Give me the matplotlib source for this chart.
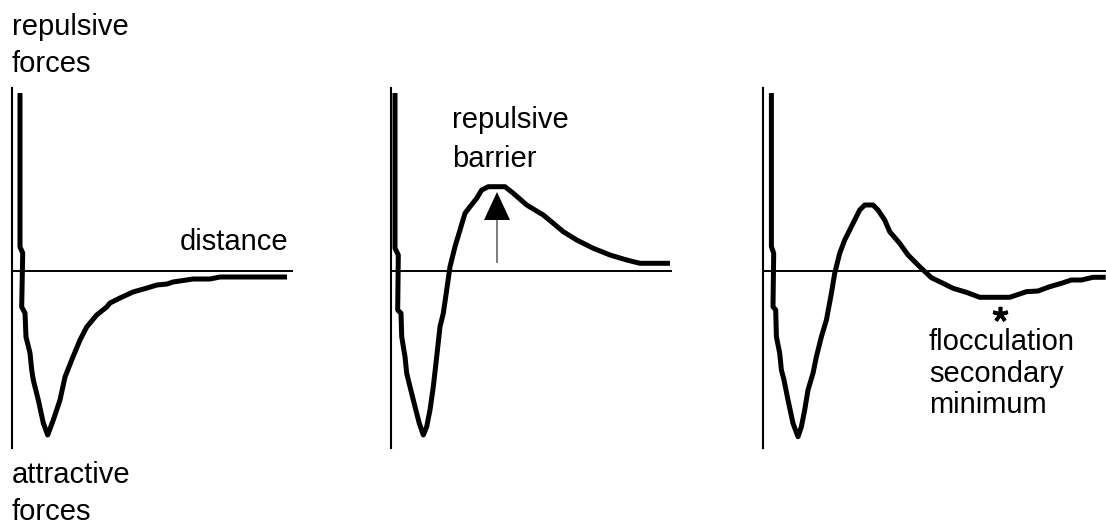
import numpy as np
import matplotlib.pyplot as plt

plt.rcParams['font.family'] = ['Liberation Sans', 'DejaVu Sans']

# interaction energy vs. separation distance, arbitrary units (origin = axis crossing)
d_attr = [8, 8, 10.7, 9.7, 13, 14, 18, 19.7, 21.3, 26.3, 31.3, 35.7, 41.3, 48, 53,
          59.7, 68, 74.7, 84.7, 94.7, 98, 108, 121, 135, 145, 155, 161, 181, 198, 208, 275]
e_attr = [178, 24, 18, -36, -42, -66, -82, -99, -109, -129, -152, -164, -149, -129, -106,
          -89, -69, -56, -44, -36, -32, -27, -21, -17, -14, -13, -11, -8, -8, -6, -6]

d_barrier = [4, 4, 7.3, 6.7, 10, 10.7, 14, 15.7, 19, 24, 28.3, 32.3, 35.7, 39, 42.3, 45.7,
             49, 52.3, 55.7, 59, 64, 69, 74, 79, 85.7, 90.7, 97.3, 114, 122.3, 135.7,
             152.3, 162.3, 172.3, 185.7, 202.3, 219, 235.7, 249, 279]
e_barrier = [178, 22.7, 16, -39, -42.3, -65.7, -85.7, -102.3, -115.7, -135.7, -152.3, -164,
             -155.7, -139, -115.7, -85.7, -55.7, -42.3, -19, 4.3, 24.3, 41, 57.7, 64.3,
             72.7, 81, 84.3, 84.3, 77.7, 66, 56, 47.7, 39.3, 31, 22.7, 16, 11, 7.7, 7.7]

d_floc = [8.4, 8.4, 10.7, 10, 12.7, 13.4, 16.7, 18.4, 21, 25, 30, 35, 38.4, 41.7, 45, 50,
          53.4, 58.4, 63.4, 68.4, 71.7, 76.7, 81.7, 86.7, 91.7, 96.7, 101.7, 110, 115,
          121.7, 126.7, 136.7, 145, 156.7, 168.4, 180, 190, 203.4, 216.7, 246.7, 263.4,
          275, 286.7, 298.4, 308.4, 318.4, 330, 342.7]
e_floc = [178, 24.3, 17.7, -35.7, -39, -65.7, -82.3, -99, -109, -129, -152.3, -165.7,
          -155.7, -139, -119, -102.3, -85.7, -65.7, -49, -22.3, -2.3, 17.7, 31, 41, 51,
          61, 66, 66, 61, 51, 39.3, 27.7, 16, 4.3, -6.7, -12.3, -17.3, -21.3, -26.3,
          -26.3, -20.7, -20, -15.7, -12.3, -9, -9, -6.3, -6.3]

barrier_arrow_x = 106
barrier_arrow_y = (8, 79)
sec_min_mark = (237, -43)

W, H = 1106, 525
fig = plt.figure(figsize=(W / 100, H / 100), dpi=100)

def make_panel(left_px, width_px):
    # 1 data unit = 1 pixel; y from -177 (bottom) to 183 (top)
    ax = fig.add_axes([left_px / W, (H - 448) / H, width_px / W, 360 / H])
    ax.set_xlim(0, width_px)
    ax.set_ylim(-177, 183)
    for s in ['top', 'right', 'bottom']:
        ax.spines[s].set_visible(False)
    ax.spines['left'].set_linewidth(1.5)
    ax.set_xticks([])
    ax.set_yticks([])
    ax.axhline(0, color='k', lw=1.4)
    ax.patch.set_alpha(0)
    return ax

ax1 = make_panel(12, 281)
ax2 = make_panel(391, 281)
ax3 = make_panel(763, 343)

fs = 21
for ax, d, e in [(ax1, d_attr, e_attr), (ax2, d_barrier, e_barrier), (ax3, d_floc, e_floc)]:
    ax.plot(d, e, color='k', lw=3.6, solid_joinstyle='round', solid_capstyle='butt',
            clip_on=False)

ax1.text(0, 236, 'repulsive', fontsize=fs, ha='left', va='baseline', clip_on=False)
ax1.text(0, 199, 'forces', fontsize=fs, ha='left', va='baseline', clip_on=False)
ax1.text(0, -212, 'attractive', fontsize=fs, ha='left', va='baseline', clip_on=False)
ax1.text(0, -249, 'forces', fontsize=fs, ha='left', va='baseline', clip_on=False)
ax1.text(276, 21, 'distance', fontsize=fs, ha='right', va='baseline')

ax2.text(61, 143, 'repulsive', fontsize=fs, ha='left', va='baseline')
ax2.text(61, 104, 'barrier', fontsize=fs, ha='left', va='baseline')
ax2.arrow(barrier_arrow_x, barrier_arrow_y[0], 0, barrier_arrow_y[1] - barrier_arrow_y[0],
          width=1.0, head_width=26, head_length=28, length_includes_head=True,
          color='k', lw=0)

# asterisk marking the secondary minimum
ax3.plot(*sec_min_mark, marker=(5, 2, 0), ms=11, mew=2.6, color='k', clip_on=False)
ax3.text(166, -79, 'flocculation', fontsize=fs, ha='left', va='baseline')
ax3.text(166, -111, 'secondary', fontsize=fs, ha='left', va='baseline')
ax3.text(166, -142, 'minimum', fontsize=fs, ha='left', va='baseline')

fig.savefig('out.png', dpi=100)
